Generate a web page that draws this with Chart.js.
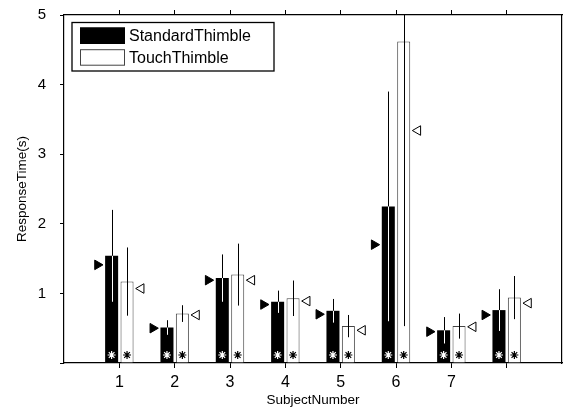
<!DOCTYPE html>
<html>
<head>
<meta charset="utf-8">
<script src="https://cdn.jsdelivr.net/npm/chart.js@4.4.1/dist/chart.umd.min.js"></script>
<style>
  html, body { margin: 0; padding: 0; background: #fff; }
  #wrap { width: 563px; height: 410px; }
</style>
</head>
<body>
<div id="wrap"><canvas id="myChart"></canvas></div>
<script>
// subjects on the x axis (the 8th has no label in the original)
var subjects = [1, 2, 3, 4, 5, 6, 7, 8];
var tickLabels = ['1', '2', '3', '4', '5', '6', '7', ''];

// mean response time and error (one std) per subject
var standardMean = [1.54, 0.51, 1.22, 0.88, 0.75, 2.25, 0.47, 0.76];
var standardErr  = [0.66, 0.105, 0.34, 0.16, 0.17, 1.65, 0.19, 0.30];
var touchMean    = [1.17, 0.71, 1.27, 0.93, 0.53, 4.62, 0.53, 0.94];
var touchErr     = [0.49, 0.12, 0.445, 0.255, 0.16, 4.09, 0.18, 0.31];

// triangle markers beside the bars
var standardMarker = [1.41, 0.50, 1.19, 0.84, 0.70, 1.70, 0.45, 0.69];
var touchMarker    = [1.07, 0.69, 1.19, 0.89, 0.47, 3.34, 0.52, 0.86];

// asterisk row near the bottom
var starLevel = 0.115;

var FONT = '"Liberation Sans", Arial, Helvetica, sans-serif';
var catPct = 0.557;
var barOffset = catPct / 4;   // center of each bar inside its group
var markerOffset = 0.395;

function pts(vals, off) {
    return subjects.map(function (s, i) { return { x: s + off, y: vals[i] }; });
}

var errorBars = {
    id: 'errorBars',
    afterDatasetsDraw: function (chart) {
        var ctx = chart.ctx, area = chart.chartArea, yScale = chart.scales.y;
        chart.data.datasets.forEach(function (ds, d) {
            if (!ds.err) return;
            var meta = chart.getDatasetMeta(d);
            meta.data.forEach(function (el, i) {
                var m = ds.data[i].y, e = ds.err[i];
                var yHi = Math.max(area.top, yScale.getPixelForValue(m + e));
                var yLo = Math.min(area.bottom, yScale.getPixelForValue(m - e));
                var x = Math.round(el.x) + 0.5;
                ctx.save();
                ctx.lineWidth = 1;
                ctx.strokeStyle = '#000';
                ctx.beginPath();
                ctx.moveTo(x, yHi);
                ctx.lineTo(x, yLo);
                ctx.stroke();
                if (ds.innerErrColor) {
                    // part of the line inside a dark bar
                    ctx.strokeStyle = ds.innerErrColor;
                    ctx.beginPath();
                    ctx.moveTo(x, Math.max(yHi, el.y));
                    ctx.lineTo(x, yLo);
                    ctx.stroke();
                }
                ctx.restore();
            });
        });
    }
};

var boxLegend = {
    id: 'boxLegend',
    afterDraw: function (chart) {
        var ctx = chart.ctx, a = chart.chartArea;
        var bx = a.left + 8, by = a.top + 7.5, bw = 202, bh = 48.5;
        ctx.save();
        ctx.fillStyle = '#fff';
        ctx.fillRect(bx, by, bw, bh);
        ctx.strokeStyle = '#000';
        ctx.lineWidth = 1.3;
        ctx.strokeRect(bx, by, bw, bh);
        ctx.font = '16px ' + FONT;
        ctx.textBaseline = 'middle';
        var rows = chart.data.datasets.filter(function (ds) { return ds.err; });
        rows.forEach(function (ds, i) {
            var sy = by + 5 + i * 21.7;
            ctx.fillStyle = ds.backgroundColor;
            ctx.fillRect(bx + 8, sy, 45, 16.5);
            ctx.strokeStyle = ds.borderColor;
            ctx.lineWidth = 1;
            ctx.strokeRect(bx + 8.5, sy + 0.5, 44, 15.5);
            ctx.fillStyle = '#000';
            ctx.fillText(ds.label, bx + 57, sy + 9);
        });
        ctx.restore();
    }
};

function onlySubjects(scale) {
    scale.ticks = subjects.map(function (s) { return { value: s }; });
}

function noPad(s) {
    s.paddingTop = 0;
    s.paddingBottom = 0;
    s.paddingLeft = 0;
    s.paddingRight = 0;
}

var ctx = document.getElementById('myChart').getContext('2d');
var chart = new Chart(ctx, {
    type: 'bar',
    data: {
        datasets: [
            {
                label: 'StandardThimble',
                data: pts(standardMean, 0),
                err: standardErr,
                innerErrColor: '#fff',
                backgroundColor: '#000',
                borderColor: '#000',
                borderWidth: 0,
                categoryPercentage: catPct,
                barPercentage: 0.845,
                order: 2
            },
            {
                label: 'TouchThimble',
                data: pts(touchMean, 0),
                err: touchErr,
                backgroundColor: '#fff',
                borderColor: '#444',
                borderWidth: 1,
                categoryPercentage: catPct,
                barPercentage: 0.845,
                order: 2
            },
            {
                type: 'scatter',
                data: pts(standardMarker, -markerOffset),
                pointStyle: 'triangle',
                rotation: 90,
                radius: 5.5,
                backgroundColor: '#000',
                borderColor: '#000',
                borderWidth: 1,
                order: 1
            },
            {
                type: 'scatter',
                data: pts(touchMarker, markerOffset),
                pointStyle: 'triangle',
                rotation: -90,
                radius: 5.5,
                backgroundColor: '#fff',
                borderColor: '#000',
                borderWidth: 1,
                order: 1
            },
            {
                type: 'scatter',
                data: pts(subjects.map(function () { return starLevel; }), -barOffset),
                pointStyle: 'star',
                radius: 4,
                borderColor: '#fff',
                borderWidth: 1.2,
                order: 0
            },
            {
                type: 'scatter',
                data: pts(subjects.map(function () { return starLevel; }), barOffset),
                pointStyle: 'star',
                radius: 4,
                borderColor: '#000',
                borderWidth: 1.2,
                order: 0
            }
        ]
    },
    options: {
        responsive: true,
        maintainAspectRatio: false,
        animation: false,
        layout: { padding: 0, autoPadding: false },
        plugins: {
            legend: { display: false },
            tooltip: { enabled: false }
        },
        scales: {
            x: {
                type: 'linear',
                position: 'bottom',
                min: 0,
                max: 9,
                offset: false,
                afterBuildTicks: onlySubjects,
                afterFit: function (s) { s.height = 47; noPad(s); },
                grid: { offset: false, drawOnChartArea: false, tickLength: 5, color: '#000' },
                border: { color: '#000', width: 1.2 },
                ticks: {
                    color: '#000',
                    padding: 5,
                    maxRotation: 0,
                    font: { family: FONT, size: 16 },
                    callback: function (v, i) { return tickLabels[i]; }
                },
                title: {
                    display: true,
                    text: 'SubjectNumber',
                    color: '#000',
                    font: { family: FONT, size: 13.5 },
                    padding: { top: 0, bottom: 2 }
                }
            },
            x2: {
                type: 'linear',
                position: 'top',
                min: 0,
                max: 9,
                offset: false,
                afterBuildTicks: onlySubjects,
                afterFit: function (s) { s.height = 15; noPad(s); },
                grid: { offset: false, drawOnChartArea: false, tickLength: 5, color: '#000' },
                border: { color: '#000', width: 1.2 },
                ticks: { display: false }
            },
            y: {
                position: 'left',
                min: 0,
                max: 5,
                afterFit: function (s) { s.width = 64; noPad(s); },
                grid: { drawOnChartArea: false, tickLength: 4, color: '#000' },
                border: { color: '#000', width: 1.2 },
                ticks: {
                    stepSize: 1,
                    color: '#000',
                    padding: 14,
                    font: { family: FONT, size: 15 },
                    callback: function (v) { return v === 0 ? '' : v; }
                },
                title: {
                    display: true,
                    text: 'ResponseTime(s)',
                    color: '#000',
                    font: { family: FONT, size: 13.5 },
                    padding: { top: 14, bottom: 0 }
                }
            },
            y2: {
                position: 'right',
                min: 0,
                max: 5,
                afterFit: function (s) { s.width = 1; noPad(s); },
                grid: { display: false },
                border: { color: '#000', width: 1.2 },
                ticks: { display: false }
            }
        }
    },
    plugins: [errorBars, boxLegend]
});
</script>
</body>
</html>
